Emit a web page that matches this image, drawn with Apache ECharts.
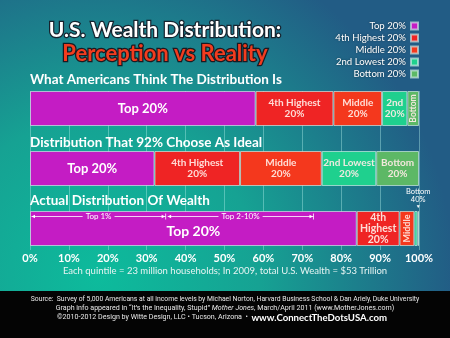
<!DOCTYPE html>
<html><head><meta charset="utf-8">
<script src="https://cdn.jsdelivr.net/npm/echarts@6/dist/echarts.min.js"></script>
<style>html,body{margin:0;padding:0;background:#000}#c{width:450px;height:338px}</style>
</head><body><div id="c"></div>
<script>
// ---- data ----
const categories = ['What Americans Think The Distribution Is', 'Distribution That 92% Choose As Ideal', 'Actual Distribution Of Wealth'];
const seriesNames = ['Top 20%', '4th Highest 20%', 'Middle 20%', '2nd Lowest 20%', 'Bottom 20%'];
const top20 = [58, 32, 84];
const fourth20 = [20, 22, 11];
const middle20 = [12.5, 21, 3.8];
const second20 = [6.5, 14, 0.8];
const bottom20 = [3, 11, 0.4];
const topLabels = ['Top 20%', 'Top 20%', 'Top 20%'];
const fourthLabels = ['4th Highest\n20%', '4th Highest\n20%', '4th\nHighest\n20%'];
const middleLabels = ['Middle\n20%', 'Middle\n20%', 'Middle'];
const secondLabels = ['2nd\n20%', '2nd Lowest\n20%', ''];
const bottomLabels = ['Bottom', 'Bottom\n20%', 'Bottom\n40%'];
const bracketStart = [0, 35];
const bracketEnd = [35, 73];
const bracketLabels = ['Top 1%', 'Top 2-10%'];
const xMin = 0, xMax = 100, xStep = 10;

// ---- style ----
const colors = ['#c41cc4', '#ef2424', '#f4381d', '#1fd08e', '#5db866'];
const FONT = 'Lato, "Open Sans", sans-serif';
const BAR_W = 35;

const chart = echarts.init(document.getElementById('c'), null, {renderer: 'canvas'});

function segLabel(i, texts, opts) {
  const o = opts[i] || {};
  return Object.assign({
    show: texts[i] !== '',
    formatter: texts[i],
    color: 'rgba(255,235,230,0.92)',
    fontFamily: FONT,
    fontWeight: 'bold',
    fontSize: 10,
    lineHeight: 11
  }, o);
}

function mkSeries(idx, values, texts, opts) {
  return {
    name: seriesNames[idx], type: 'bar', stack: 'all', barWidth: BAR_W,
    xAxisIndex: 0, yAxisIndex: 0, z: 3,
    itemStyle: {color: colors[idx], borderColor: 'rgba(215,240,235,0.65)', borderWidth: 1},
    emphasis: {disabled: true},
    data: values.map((v, i) => ({value: v, label: segLabel(i, texts, opts)}))
  };
}

const series = [
  mkSeries(0, top20, topLabels, [
    {fontSize: 13, color: '#fff'},
    {fontSize: 13, color: '#fff'},
    {fontSize: 14, color: '#fff', offset: [0, 3]}
  ]),
  mkSeries(1, fourth20, fourthLabels, [{}, {}, {fontSize: 10.5}]),
  mkSeries(2, middle20, middleLabels, [{}, {}, {rotate: 90, fontSize: 9}]),
  mkSeries(3, second20, secondLabels, [{}, {}, {}]),
  mkSeries(4, bottom20, bottomLabels, [
    {rotate: 90, fontSize: 8.5},
    {},
    {position: 'top', distance: 1, fontSize: 7.5, lineHeight: 7.5, fontWeight: 'normal', color: '#fff',
     formatter: '{a|Bottom}\n{a|40%}\n{t|▼}',
     rich: {a: {fontSize: 7.5, lineHeight: 7.5, color: '#fff', fontFamily: FONT}, t: {fontSize: 5, lineHeight: 7, color: '#fff'}}}
  ]),
  {
    type: 'custom', xAxisIndex: 0, yAxisIndex: 0, z: 5,
    data: bracketStart.map((s, i) => [s, bracketEnd[i], 2]),
    encode: {x: [0, 1], y: 2},
    renderItem: function (params, api) {
      const a = api.coord([api.value(0), api.value(2)]);
      const b = api.coord([api.value(1), api.value(2)]);
      const y = a[1] - BAR_W / 2 + 5.5;
      const x0 = a[0] + 1.5, x1 = b[0] - 0.5;
      const mid = (x0 + x1) / 2;
      const c = '#fff';
      return {
        type: 'group',
        children: [
          {type: 'line', shape: {x1: x0, y1: y, x2: x1, y2: y}, style: {stroke: c, lineWidth: 0.8}},
          {type: 'polygon', shape: {points: [[x0, y], [x0 + 3.5, y - 1.8], [x0 + 3.5, y + 1.8]]}, style: {fill: c}},
          {type: 'polygon', shape: {points: [[x1 - 0.5, y], [x1 - 4, y - 1.8], [x1 - 4, y + 1.8]]}, style: {fill: c}},
          {type: 'line', shape: {x1: x1, y1: y - 3, x2: x1, y2: y + 3}, style: {stroke: c, lineWidth: 0.8}},
          {type: 'text', style: {x: mid, y: y, text: bracketLabels[params.dataIndex], fill: c,
            font: '8px ' + FONT, align: 'center', verticalAlign: 'middle',
            backgroundColor: colors[0], padding: [0, 3]}}
        ]
      };
    }
  }
];

const option = {
  animation: false,
  backgroundColor: {
    type: 'radial', x: 0.22, y: 0.82, r: 1.05,
    colorStops: [
      {offset: 0, color: '#0dbb9c'},
      {offset: 0.45, color: '#16a293'},
      {offset: 1, color: '#225c85'}
    ]
  },
  legend: {
    orient: 'vertical', right: 31, top: 20, align: 'right', padding: 0,
    itemWidth: 7, itemHeight: 7, itemGap: 0, icon: 'rect',
    data: seriesNames,
    textStyle: {color: '#fff', fontSize: 9.6, lineHeight: 12, fontFamily: FONT,
      textShadowColor: 'rgba(0,0,0,0.5)', textShadowBlur: 2}
  },
  grid: [
    {left: 30, right: 31, top: 78.5, height: 180},
    {left: 30, right: 31, top: 91, bottom: 88}
  ],
  xAxis: [
    {type: 'value', gridIndex: 0, min: xMin, max: xMax, interval: xStep, show: false},
    {type: 'value', gridIndex: 1, min: xMin, max: xMax, interval: xStep,
      axisLine: {show: false}, axisTick: {show: false},
      splitLine: {show: true, lineStyle: {color: 'rgba(175,235,230,0.42)', width: 1}},
      axisLabel: {formatter: '{value}%', color: '#fff', fontSize: 11, fontFamily: FONT, fontWeight: 'bold', margin: 3}}
  ],
  yAxis: [
    {type: 'category', gridIndex: 0, data: categories, inverse: true, show: false},
    {type: 'value', gridIndex: 1, min: 0, max: 1, show: false}
  ],
  graphic: [
    {type: 'rect', z: -1, silent: true, shape: {x: 0, y: 291, width: 450, height: 47}, style: {fill: '#040404'}},
    {type: 'text', z: 10, style: {x: 165, y: 30, text: 'U.S. Wealth Distribution:', font: 'bold 21px ' + FONT,
      fill: '#fff', stroke: '#17232e', lineWidth: 2.5, strokeFirst: true, align: 'center', verticalAlign: 'middle'}},
    {type: 'text', z: 10, style: {x: 165, y: 54, text: 'Perception vs Reality', font: 'bold 22px ' + FONT,
      fill: '#f23c1f', stroke: '#1a1a22', lineWidth: 2.5, strokeFirst: true, align: 'center', verticalAlign: 'middle'}},
    {type: 'text', z: 10, style: {x: 30, y: 80, text: categories[0], font: 'bold 13.5px ' + FONT, fill: '#fff', align: 'left', verticalAlign: 'middle'}},
    {type: 'text', z: 10, style: {x: 30, y: 143, text: categories[1], font: 'bold 13.5px ' + FONT, fill: '#fff', align: 'left', verticalAlign: 'middle'}},
    {type: 'text', z: 10, style: {x: 30, y: 201, text: categories[2], font: 'bold 13.5px ' + FONT, fill: '#fff', align: 'left', verticalAlign: 'middle'}},
    {type: 'text', z: 10, style: {x: 225, y: 271, text: 'Each quintile = 23 million households; In 2009, total U.S. Wealth = $53 Trillion',
      font: '9.5px ' + FONT, fill: '#e6f4f2', align: 'center', verticalAlign: 'middle'}},
    {type: 'text', z: 10, style: {x: 225, y: 299.5, text: 'Source:  Survey of 5,000 Americans at all income levels by Michael Norton, Harvard Business School & Dan Ariely, Duke University',
      font: '6.8px Roboto, sans-serif', fill: '#e8e8e8', align: 'center', verticalAlign: 'middle'}},
    {type: 'text', z: 10, style: {x: 225, y: 308.5,
      text: '{n|Graph info appeared in \u201cIt\u2019s the Inequality, Stupid\u201d }{i|Mother Jones}{n|, March/April 2011 (www.MotherJones.com)}',
      rich: {n: {font: '7.1px Roboto, sans-serif', fill: '#e8e8e8'}, i: {font: 'italic 7.1px Roboto, sans-serif', fill: '#e8e8e8'}},
      align: 'center', verticalAlign: 'middle'}},
    {type: 'text', z: 10, style: {x: 222, y: 317.5,
      text: '{n|\u00a92010-2012 Design by Witte Design, LLC \u2022 Tucson, Arizona  \u2022  }{b|www.ConnectTheDotsUSA.com}',
      rich: {n: {font: '7.1px Roboto, sans-serif', fill: '#e8e8e8'}, b: {font: 'bold 9.6px ' + FONT, fill: '#ffffff'}},
      align: 'center', verticalAlign: 'middle'}}
  ],
  series: series
};
chart.setOption(option);
</script>
</body></html>
